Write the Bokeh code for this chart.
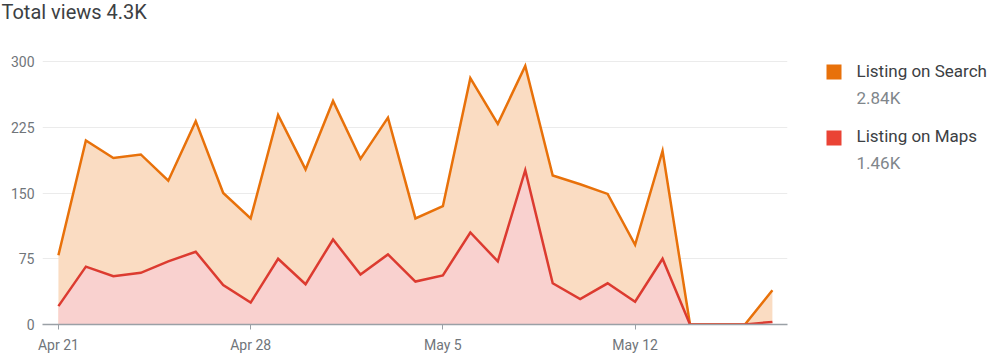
from bokeh.plotting import figure
from bokeh.layouts import column, row
from bokeh.models import FixedTicker, ColumnDataSource
from bokeh.core.properties import value
from bokeh.embed import file_html
from bokeh.resources import INLINE

# ---- data ----
dates = ["Apr 21", "Apr 22", "Apr 23", "Apr 24", "Apr 25", "Apr 26", "Apr 27",
         "Apr 28", "Apr 29", "Apr 30", "May 1", "May 2", "May 3", "May 4",
         "May 5", "May 6", "May 7", "May 8", "May 9", "May 10", "May 11",
         "May 12", "May 13", "May 14", "May 15", "May 16", "May 17"]
search_views = [58, 144, 135, 135, 92, 149, 105, 96, 164, 131, 158, 132, 156, 72,
                79, 176, 157, 119, 123, 131, 102, 65, 123, 0, 0, 0, 36]
maps_views = [21, 66, 55, 59, 72, 83, 45, 25, 75, 46, 97, 57, 80, 49,
              56, 105, 72, 176, 47, 29, 47, 26, 75, 0, 0, 0, 3]
tick_labels = ["Apr 21", "Apr 28", "May 5", "May 12"]
y_ticks = [0, 75, 150, 225, 300]
series_names = ["Listing on Search", "Listing on Maps"]
series_totals = ["2.84K", "1.46K"]
title_text = "Total views 4.3K"

# ---- styles ----
ORANGE_LINE = "#e8710a"
ORANGE_FILL = "#fadcc2"
RED_LINE = "#dc3b30"
RED_FILL = "#f9d1cf"
ORANGE_KEY = "#e8710a"
RED_KEY = "#ea4335"
FONT = "Roboto"

W, H = 995, 360
TITLE_H = 40
MAIN_W = 789
FRAME_TOP, FRAME_BOTTOM = 50, 324   # canvas y of the aligned plot frames

# ---- title strip (data coords == canvas pixels) ----
tf = figure(width=W, height=TITLE_H, x_range=(0, W), y_range=(TITLE_H, 0), title=None,
            output_backend="svg", toolbar_location=None,
            x_axis_location=None, y_axis_location=None, min_border=0)
tf.outline_line_color = None
tf.grid.visible = False
tf.text(x=[1], y=[11], text=[title_text], text_font=value(FONT), text_font_size="20px",
        text_color="#3c4043", text_baseline="middle", text_align="left")

# ---- main chart ----
x = list(range(len(dates)))
total = [s + m for s, m in zip(search_views, maps_views)]
src = ColumnDataSource(dict(x=x, zero=[0] * len(x), total=total, maps=maps_views))

p = figure(width=MAIN_W, height=H - TITLE_H, x_range=(-0.58, 26.55), y_range=(0, 312.6),
           title=None, output_backend="svg", toolbar_location=None,
           min_border_left=42, min_border_right=2, min_border_top=10, min_border_bottom=36)
p.outline_line_color = None

p.varea(x="x", y1="zero", y2="total", source=src, fill_color=ORANGE_FILL, fill_alpha=1)
p.varea(x="x", y1="zero", y2="maps", source=src, fill_color=RED_FILL, fill_alpha=1)
p.line(x="x", y="total", source=src, line_color=ORANGE_LINE, line_width=2.5, line_join="miter")
p.line(x="x", y="maps", source=src, line_color=RED_LINE, line_width=2.5, line_join="miter")

tick_pos = [dates.index(t) for t in tick_labels]
p.xaxis.ticker = FixedTicker(ticks=tick_pos)
p.xaxis.major_label_overrides = {pos: lab for pos, lab in zip(tick_pos, tick_labels)}
p.xaxis.axis_line_color = "#9aa0a6"
p.xaxis.axis_line_width = 1.5
p.xaxis.major_tick_line_color = "#9aa0a6"
p.xaxis.major_tick_out = 5
p.xaxis.major_tick_in = 0
p.xaxis.minor_tick_line_color = None
p.xaxis.minor_tick_out = 0
p.xaxis.major_label_standoff = 7
p.xaxis.major_label_text_font = FONT
p.xaxis.major_label_text_font_size = "14px"
p.xaxis.major_label_text_color = "#70757a"

p.yaxis.ticker = FixedTicker(ticks=y_ticks)
p.yaxis.axis_line_color = None
p.yaxis.major_tick_line_color = None
p.yaxis.minor_tick_line_color = None
p.yaxis.major_tick_out = 0
p.yaxis.minor_tick_out = 0
p.yaxis.major_label_standoff = 8
p.yaxis.major_label_text_font = FONT
p.yaxis.major_label_text_font_size = "14px"
p.yaxis.major_label_text_color = "#70757a"

p.xgrid.grid_line_color = None
p.ygrid.grid_line_color = "#ebebeb"
p.ygrid.grid_line_width = 1

# ---- legend panel: its frame is aligned with the main frame, so map canvas y directly ----
lf = figure(width=W - MAIN_W, height=H - TITLE_H, x_range=(MAIN_W, W),
            y_range=(FRAME_BOTTOM, FRAME_TOP), title=None,
            output_backend="svg", toolbar_location=None,
            x_axis_location=None, y_axis_location=None, min_border=0)
lf.outline_line_color = None
lf.grid.visible = False

keys = [ORANGE_KEY, RED_KEY]
box_top = [64, 130]
name_mid = [70, 135]
total_mid = [97, 162]
lf.quad(left=[826, 826], right=[841, 841], top=box_top, bottom=[t + 15 for t in box_top],
        fill_color=keys, line_color=None)
lf.text(x=[856, 856], y=name_mid, text=series_names, text_font=value(FONT), text_font_size="17px",
        text_color="#3c4043", text_baseline="middle", text_align="left")
lf.text(x=[856, 856], y=total_mid, text=series_totals, text_font=value(FONT), text_font_size="17px",
        text_color="#80868b", text_baseline="middle", text_align="left")

layout = column(tf, row(p, lf, spacing=0), spacing=0)
open("out.html", "w").write(file_html(layout, INLINE))
